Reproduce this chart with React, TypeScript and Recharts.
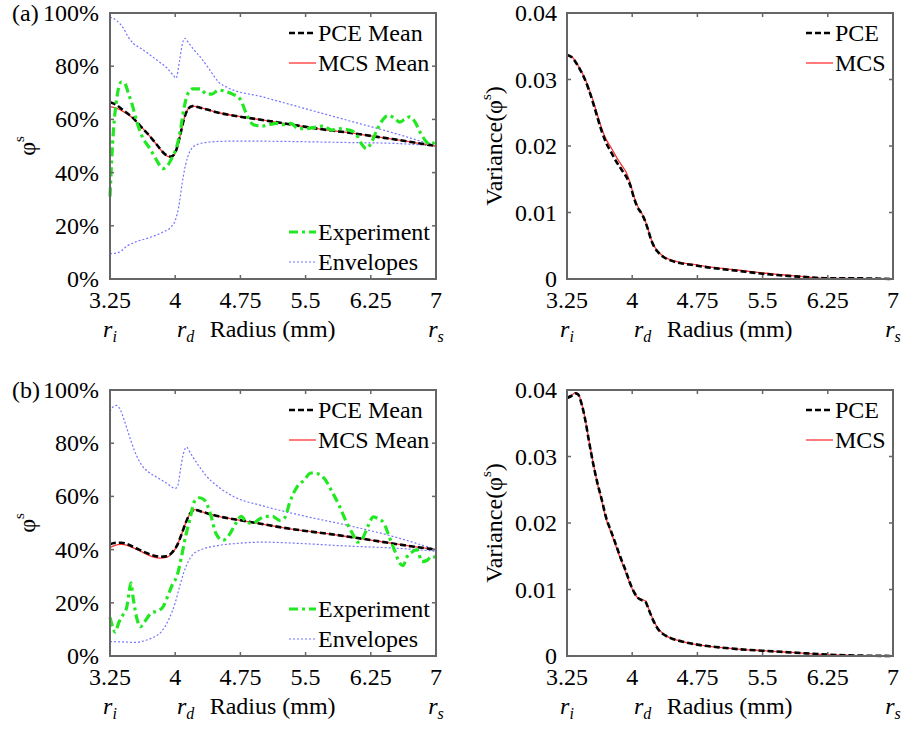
import React from 'react';
import { LineChart, Line, XAxis, YAxis, Label, ReferenceArea } from 'recharts';

type Pt = [number, number];

const FONT = "'Liberation Serif', 'Times New Roman', serif";
const FS = 24;

const xTicks = [3.25, 4, 4.75, 5.5, 6.25, 7];
const radiusMarks = [3.25, 4.12, 7];
const radiusSubs = ['i', 'd', 's'];
const phiTicks = [0, 20, 40, 60, 80, 100];
const varTicks = [0, 0.01, 0.02, 0.03, 0.04];

// ---- (a) mean of phi^s (%)
const aPce: Pt[] = [
  [3.25, 66.5], [3.32, 65.5], [3.4, 63.5], [3.5, 61], [3.6, 57.5], [3.7, 54], [3.8, 50], [3.88, 47],
  [3.95, 46], [4.0, 47.5], [4.05, 53], [4.1, 60], [4.15, 64], [4.2, 65], [4.3, 64.3], [4.5, 62.5],
  [4.75, 61], [5.0, 59.8], [5.25, 58.5], [5.5, 57.2], [5.75, 56], [6.0, 55], [6.25, 53.8], [6.5, 52.6],
  [6.75, 51.3], [7.0, 50],
];
const aMcs: Pt[] = [
  [3.25, 64.8], [3.32, 64.2], [3.4, 63], [3.5, 60.8], [3.6, 57.5], [3.7, 54], [3.8, 50], [3.88, 46.8],
  [3.95, 45.8], [4.0, 47.3], [4.05, 53], [4.1, 60], [4.15, 64], [4.2, 65], [4.3, 64.3], [4.5, 62.5],
  [4.75, 61], [5.0, 59.8], [5.25, 58.5], [5.5, 57.2], [5.75, 56], [6.0, 55], [6.25, 53.8], [6.5, 52.6],
  [6.75, 51.3], [7.0, 50],
];
const aExp: Pt[] = [
  [3.25, 31], [3.27, 45], [3.29, 56], [3.32, 66], [3.35, 72], [3.38, 74], [3.42, 73.5], [3.46, 70],
  [3.51, 65], [3.56, 59], [3.62, 53.5], [3.7, 49.5], [3.78, 45], [3.86, 41.5], [3.92, 43], [3.97, 46],
  [4.02, 50], [4.06, 56], [4.1, 64], [4.15, 70], [4.2, 71.5], [4.29, 71.5], [4.36, 69.5], [4.42, 69.5],
  [4.5, 71], [4.58, 70.5], [4.66, 69.5], [4.75, 67.5], [4.82, 62], [4.9, 58], [5.0, 57.5], [5.08, 58],
  [5.16, 58.5], [5.24, 58], [5.33, 58.5], [5.42, 56.5], [5.5, 56.5], [5.6, 57], [5.7, 57.5], [5.8, 56],
  [5.9, 56.5], [6.0, 56], [6.08, 54.5], [6.14, 51], [6.2, 49], [6.26, 51.5], [6.32, 56], [6.38, 59.5],
  [6.45, 61.5], [6.52, 60.5], [6.58, 59], [6.64, 60], [6.7, 61], [6.76, 59], [6.82, 55], [6.88, 52],
  [6.94, 50.5], [7.0, 52.5],
];
const aUpper: Pt[] = [
  [3.25, 98.5], [3.32, 97.3], [3.4, 94.5], [3.46, 91], [3.52, 88.5], [3.6, 86.8], [3.7, 84.5], [3.8, 82],
  [3.9, 79.5], [3.98, 76.5], [4.01, 75.5], [4.05, 82], [4.08, 88], [4.11, 90.5], [4.15, 89], [4.22, 86],
  [4.3, 83], [4.4, 78.5], [4.5, 74], [4.6, 72], [5.0, 68.5], [5.5, 64], [6.0, 59.5], [6.5, 55], [7.0, 50],
];
const aLower: Pt[] = [
  [3.25, 9.5], [3.35, 10], [3.45, 12.5], [3.55, 14], [3.7, 15.5], [3.85, 17.5], [3.95, 19.5], [4.0, 22],
  [4.04, 27], [4.08, 36], [4.12, 43], [4.17, 48], [4.25, 50.5], [4.4, 51.5], [4.6, 51.8], [5.0, 51.8],
  [5.5, 51.6], [6.0, 51.3], [6.5, 51], [7.0, 50],
];

// ---- (a) variance
const aVarPce: Pt[] = [
  [3.25, 0.0337], [3.3, 0.0334], [3.35, 0.0326], [3.4, 0.0315], [3.45, 0.0302], [3.5, 0.0285],
  [3.55, 0.0265], [3.6, 0.0243], [3.65, 0.0222], [3.7, 0.0205], [3.76, 0.019], [3.82, 0.0176],
  [3.88, 0.0164], [3.94, 0.0152], [3.98, 0.014], [4.02, 0.0122], [4.06, 0.0108], [4.1, 0.01],
  [4.14, 0.009], [4.18, 0.0075], [4.22, 0.0058], [4.26, 0.0047], [4.3, 0.004], [4.36, 0.0033],
  [4.44, 0.0028], [4.55, 0.0024], [4.7, 0.0021], [4.9, 0.0017], [5.1, 0.0014], [5.3, 0.0011],
  [5.5, 0.0008], [5.75, 0.0005], [6.0, 0.0003], [6.25, 0.0001], [6.5, 0.0001], [7.0, 0],
];
const aVarMcs: Pt[] = [
  [3.25, 0.0337], [3.3, 0.0335], [3.35, 0.0327], [3.4, 0.0316], [3.45, 0.0303], [3.5, 0.0287],
  [3.55, 0.0268], [3.6, 0.0247], [3.65, 0.0226], [3.7, 0.021], [3.76, 0.0197], [3.82, 0.0183],
  [3.88, 0.0171], [3.94, 0.0158], [3.98, 0.0143], [4.02, 0.0124], [4.06, 0.011], [4.1, 0.0101],
  [4.14, 0.0091], [4.18, 0.0076], [4.22, 0.0059], [4.26, 0.0048], [4.3, 0.0041], [4.36, 0.0034],
  [4.44, 0.0029], [4.55, 0.0025], [4.7, 0.0022], [4.9, 0.0018], [5.1, 0.0015], [5.3, 0.0012],
  [5.5, 0.0009], [5.75, 0.0006], [6.0, 0.0003], [6.25, 0.0001], [6.5, 0.0001], [7.0, 0],
];

// ---- (b) mean of phi^s (%)
const bPce: Pt[] = [
  [3.25, 42], [3.3, 42.5], [3.38, 42.6], [3.45, 42], [3.55, 40.5], [3.65, 39], [3.75, 37.8], [3.83, 37.3],
  [3.9, 37.5], [3.96, 38.8], [4.02, 41.5], [4.07, 45.5], [4.12, 50], [4.17, 53.5], [4.22, 55], [4.3, 54.3],
  [4.5, 52.5], [4.75, 51], [5.0, 49.6], [5.25, 48.2], [5.5, 47], [5.75, 46], [6.0, 44.8], [6.25, 43.6],
  [6.5, 42.3], [6.75, 41.1], [7.0, 40],
];
const bMcs: Pt[] = [
  [3.25, 40.7], [3.3, 41.5], [3.38, 42], [3.45, 41.6], [3.55, 40.2], [3.65, 38.6], [3.75, 37.2], [3.83, 36.8],
  [3.9, 37.1], [3.96, 38.5], [4.02, 41.3], [4.07, 45.5], [4.12, 50], [4.17, 53.5], [4.22, 55], [4.3, 54.3],
  [4.5, 52.5], [4.75, 51], [5.0, 49.6], [5.25, 48.2], [5.5, 47], [5.75, 46], [6.0, 44.8], [6.25, 43.6],
  [6.5, 42.3], [6.75, 41.1], [7.0, 40],
];
const bExp: Pt[] = [
  [3.25, 14.5], [3.28, 11], [3.31, 9], [3.35, 12.5], [3.4, 15.5], [3.44, 18], [3.47, 24], [3.49, 27.5],
  [3.52, 21], [3.56, 14], [3.6, 11], [3.65, 13], [3.72, 16], [3.8, 17], [3.86, 18.5], [3.92, 23],
  [3.97, 27], [4.02, 30], [4.07, 37], [4.12, 45], [4.17, 51.5], [4.22, 58], [4.28, 59.5], [4.34, 58.5],
  [4.4, 54], [4.47, 46], [4.55, 43.5], [4.62, 45.5], [4.7, 50], [4.76, 52.5], [4.83, 50], [4.9, 50],
  [4.97, 51.5], [5.04, 52.5], [5.12, 52.5], [5.2, 51], [5.26, 52], [5.32, 58], [5.4, 63.5], [5.48, 66],
  [5.56, 68.8], [5.64, 68.5], [5.72, 66.5], [5.8, 62], [5.88, 57], [5.96, 51], [6.04, 46], [6.1, 42.8],
  [6.16, 44.5], [6.22, 49], [6.28, 52.3], [6.34, 51.5], [6.4, 50], [6.46, 45], [6.52, 40], [6.58, 35],
  [6.62, 34], [6.67, 37.5], [6.72, 39], [6.78, 40], [6.84, 35.5], [6.9, 36], [6.95, 37.5], [7.0, 37],
];
const bUpper: Pt[] = [
  [3.25, 92], [3.29, 93.8], [3.33, 94.2], [3.37, 92.5], [3.41, 89], [3.45, 85], [3.5, 80], [3.56, 75],
  [3.62, 71.5], [3.7, 69], [3.8, 67], [3.9, 65], [4.0, 63], [4.03, 64], [4.06, 70], [4.09, 75.5],
  [4.13, 78.5], [4.18, 76], [4.25, 72.5], [4.35, 68], [4.5, 63.5], [4.7, 59.5], [5.0, 56.5], [5.5, 52.5],
  [6.0, 49], [6.5, 45], [7.0, 40],
];
const bLower: Pt[] = [
  [3.25, 5.4], [3.4, 5.3], [3.55, 5.1], [3.65, 5.8], [3.75, 7], [3.85, 9.5], [3.93, 14], [4.0, 20],
  [4.05, 26], [4.1, 31.5], [4.15, 35.5], [4.2, 38], [4.3, 40], [4.45, 41.3], [4.7, 42.3], [5.0, 42.8],
  [5.5, 42.2], [6.0, 41.3], [6.5, 40.6], [7.0, 39.4],
];

// ---- (b) variance
const bVarPce: Pt[] = [
  [3.25, 0.0388], [3.3, 0.0391], [3.35, 0.0395], [3.38, 0.0393], [3.42, 0.0378], [3.46, 0.0355],
  [3.5, 0.0325], [3.55, 0.029], [3.6, 0.026], [3.65, 0.0235], [3.7, 0.0208], [3.75, 0.019],
  [3.8, 0.0172], [3.86, 0.015], [3.92, 0.013], [3.98, 0.0108], [4.03, 0.0094], [4.07, 0.0087],
  [4.11, 0.0084], [4.15, 0.0082], [4.19, 0.007], [4.24, 0.0054], [4.3, 0.004], [4.38, 0.0031],
  [4.46, 0.0026], [4.6, 0.0021], [4.8, 0.0016], [5.0, 0.0013], [5.25, 0.001], [5.5, 0.0008],
  [5.75, 0.0006], [6.0, 0.0004], [6.25, 0.0002], [6.5, 0.0001], [7.0, 0],
];
const bVarMcs: Pt[] = [
  [3.25, 0.0389], [3.3, 0.0392], [3.35, 0.0396], [3.38, 0.0394], [3.42, 0.0379], [3.46, 0.0356],
  [3.5, 0.0326], [3.55, 0.0291], [3.6, 0.0259], [3.65, 0.0233], [3.7, 0.0206], [3.75, 0.0188],
  [3.8, 0.017], [3.86, 0.0148], [3.92, 0.0128], [3.98, 0.0107], [4.03, 0.0093], [4.07, 0.0087],
  [4.11, 0.0085], [4.15, 0.0083], [4.19, 0.0071], [4.24, 0.0055], [4.3, 0.0041], [4.38, 0.0031],
  [4.46, 0.0026], [4.6, 0.0021], [4.8, 0.0016], [5.0, 0.0013], [5.25, 0.001], [5.5, 0.0008],
  [5.75, 0.0006], [6.0, 0.0004], [6.25, 0.0002], [6.5, 0.0001], [7.0, 0],
];

const pts = (p: Pt[]) => p.map(([x, y]) => ({ x, y }));

type Style = { color: string; width: number; dash?: string };
const PCE: Style = { color: '#000000', width: 2.6, dash: '6 3' };
const MCS: Style = { color: '#ff3434', width: 1.3 };
const EXP: Style = { color: '#22e822', width: 3.2, dash: '9 4 3 4' };
const ENV: Style = { color: '#7474ff', width: 1.2, dash: '2 2' };
const AXIS = '#666666';

type Series = { key: string; data: Pt[]; style: Style };
type Row = { top: number; name: string; style: Style };

const H = 359;
const PLOT_H = 266; // plot box height (H - 13 top - 10 bottom - 70 axis)
const PLOT_W = 326;

// bottom axis: numbers + inward ticks (bottom and top edge), then the r_i / r_d / r_s row
const XTick = (props: any) => {
  const { x, y, payload } = props;
  const v = payload.value;
  const i = radiusMarks.indexOf(v);
  const isNum = xTicks.includes(v);
  return (
    <g>
      {isNum && <rect x={x - 0.75} y={y - 4} width={1.5} height={4} fill={AXIS} />}
      {isNum && <rect x={x - 0.75} y={y - PLOT_H} width={1.5} height={4} fill={AXIS} />}
      {isNum && (
        <text x={x} y={y + 29} textAnchor="middle" fontFamily={FONT} fontSize={FS} fill="#000">
          {String(v)}
        </text>
      )}
      {i >= 0 && (
        <text x={x} y={y + 58} textAnchor="middle" fontFamily={FONT} fontSize={FS} fontStyle="italic" fill="#000">
          r<tspan dy={5} fontSize={16}>{radiusSubs[i]}</tspan>
        </text>
      )}
      {i === 1 && (
        <text x={x + 24} y={y + 58} fontFamily={FONT} fontSize={FS} fill="#000">
          Radius (mm)
        </text>
      )}
    </g>
  );
};

// left axis: label, inward ticks on left and right edge; the lowest tick also draws the plot box
const YTick = (props: any) => {
  const { x, y, payload, fmt, gap, base } = props;
  return (
    <g>
      {payload.value === base && (
        <g fill={AXIS}>
          <rect x={x - 1} y={y - PLOT_H - 1} width={PLOT_W + 2} height={2} />
          <rect x={x - 1} y={y - 1} width={PLOT_W + 2} height={2} />
          <rect x={x - 1} y={y - PLOT_H - 1} width={2} height={PLOT_H + 2} />
          <rect x={x + PLOT_W - 1} y={y - PLOT_H - 1} width={2} height={PLOT_H + 2} />
        </g>
      )}
      <rect x={x} y={y - 0.75} width={4} height={1.5} fill={AXIS} />
      <rect x={x + PLOT_W - 4} y={y - 0.75} width={4} height={1.5} fill={AXIS} />
      <text x={x - gap} y={y} textAnchor="end" dominantBaseline="central" fontFamily={FONT} fontSize={FS} fill="#000">
        {fmt(payload.value)}
      </text>
    </g>
  );
};

const AxisTitle = ({ viewBox, dx, prefix, suffix }: any) => {
  const cx = viewBox.x + dx;
  const cy = viewBox.y + viewBox.height / 2;
  return (
    <text
      x={cx}
      y={cy}
      transform={`rotate(-90 ${cx} ${cy})`}
      textAnchor="middle"
      dominantBaseline="central"
      fontFamily={FONT}
      fontSize={FS}
      fill="#000"
    >
      {prefix}φ<tspan dy={-8} fontSize={15}>s</tspan>
      {suffix ? <tspan dy={8}>{suffix}</tspan> : null}
    </text>
  );
};

const LegendBlock = ({ left, rows }: { left: number; rows: Row[] }) => (
  <>
    {rows.map((r) => (
      <div
        key={r.name}
        style={{
          position: 'absolute',
          left,
          top: r.top - 14,
          height: 28,
          display: 'flex',
          alignItems: 'center',
          fontFamily: FONT,
          fontSize: FS,
          color: '#000',
          whiteSpace: 'nowrap',
        }}
      >
        <svg width={27} height={10}>
          <line x1={0} y1={5} x2={27} y2={5} stroke={r.style.color} strokeWidth={r.style.width} strokeDasharray={r.style.dash} />
        </svg>
        <span style={{ marginLeft: 2 }}>{r.name}</span>
      </div>
    ))}
  </>
);

type PanelProps = {
  left: number;
  top: number;
  width: number;
  yAxisWidth: number;
  yTicks: number[];
  yFmt: (v: number) => string;
  yGap: number;
  titleDx: number;
  prefix: string;
  suffix?: string;
  series: Series[];
  legendLeft: number;
  legend: Row[];
};

const Panel = (p: PanelProps) => {
  const yMin = p.yTicks[0];
  const yMax = p.yTicks[p.yTicks.length - 1];
  return (
    <div style={{ position: 'absolute', left: p.left, top: p.top, width: p.width, height: H }}>
      <LineChart
        width={p.width}
        height={H}
        margin={{ top: 13, right: p.width - p.yAxisWidth - PLOT_W, bottom: 10, left: 0 }}
      >
        <XAxis
          dataKey="x"
          type="number"
          domain={[3.25, 7]}
          ticks={[...xTicks, radiusMarks[1]].sort((a, b) => a - b)}
          interval={0}
          height={70}
          axisLine={{ stroke: AXIS, strokeWidth: 2 }}
          tickLine={false}
          tickSize={0}
          tickMargin={0}
          tick={<XTick />}
        />
        <YAxis
          type="number"
          domain={[yMin, yMax]}
          ticks={p.yTicks}
          interval={0}
          width={p.yAxisWidth}
          axisLine={{ stroke: AXIS, strokeWidth: 2 }}
          tickLine={false}
          tickSize={0}
          tickMargin={0}
          tick={<YTick fmt={p.yFmt} gap={p.yGap} base={yMin} />}
        >
          <Label content={(lp: any) => <AxisTitle {...lp} dx={p.titleDx} prefix={p.prefix} suffix={p.suffix} />} />
        </YAxis>
        <ReferenceArea x1={3.25} x2={7} y1={yMin} y2={yMax} fill="none" stroke={AXIS} strokeWidth={2} />
        {p.series.map((s) => (
          <Line
            key={s.key}
            data={pts(s.data)}
            dataKey="y"
            type="monotone"
            stroke={s.style.color}
            strokeWidth={s.style.width}
            strokeDasharray={s.style.dash}
            dot={false}
            activeDot={false}
            isAnimationActive={false}
          />
        ))}
      </LineChart>
      <LegendBlock left={p.legendLeft} rows={p.legend} />
    </div>
  );
};

const pct = (v: number) => `${v}%`;
const dec = (v: number) => (v === 0 ? '0' : v.toFixed(2));

const meanLegend: Row[] = [
  { top: 33, name: 'PCE Mean', style: PCE },
  { top: 63, name: 'MCS Mean', style: MCS },
  { top: 232, name: 'Experiment', style: EXP },
  { top: 262, name: 'Envelopes', style: ENV },
];
const varLegend: Row[] = [
  { top: 33, name: 'PCE', style: PCE },
  { top: 63, name: 'MCS', style: MCS },
];

type MeanProps = { top: number; pce: Pt[]; mcs: Pt[]; exp: Pt[]; upper: Pt[]; lower: Pt[] };
const MeanPanel = ({ top, pce, mcs, exp, upper, lower }: MeanProps) => (
  <Panel
    left={0}
    top={top}
    width={450}
    yAxisWidth={110}
    yTicks={phiTicks}
    yFmt={pct}
    yGap={11}
    titleDx={27}
    prefix=""
    series={[
      { key: 'upper', data: upper, style: ENV },
      { key: 'lower', data: lower, style: ENV },
      { key: 'mcs', data: mcs, style: MCS },
      { key: 'pce', data: pce, style: PCE },
      { key: 'exp', data: exp, style: EXP },
    ]}
    legendLeft={289}
    legend={meanLegend}
  />
);

type VarProps = { top: number; pce: Pt[]; mcs: Pt[] };
const VarPanel = ({ top, pce, mcs }: VarProps) => (
  <Panel
    left={450}
    top={top}
    width={454}
    yAxisWidth={117}
    yTicks={varTicks}
    yFmt={dec}
    yGap={10}
    titleDx={44}
    prefix="Variance("
    suffix=")"
    series={[
      { key: 'mcs', data: mcs, style: MCS },
      { key: 'pce', data: pce, style: PCE },
    ]}
    legendLeft={356}
    legend={varLegend}
  />
);

const tag = (top: number): React.CSSProperties => ({
  position: 'absolute',
  left: 12,
  top,
  fontFamily: FONT,
  fontSize: FS,
  color: '#000',
  lineHeight: '27px',
});

export default function App() {
  return (
    <div style={{ position: 'absolute', left: 0, top: 0, width: 904, height: 729, background: '#fff' }}>
      <MeanPanel top={0} pce={aPce} mcs={aMcs} exp={aExp} upper={aUpper} lower={aLower} />
      <VarPanel top={0} pce={aVarPce} mcs={aVarMcs} />
      <MeanPanel top={377} pce={bPce} mcs={bMcs} exp={bExp} upper={bUpper} lower={bLower} />
      <VarPanel top={377} pce={bVarPce} mcs={bVarMcs} />
      <div style={tag(0)}>(a)</div>
      <div style={tag(377)}>(b)</div>
    </div>
  );
}
